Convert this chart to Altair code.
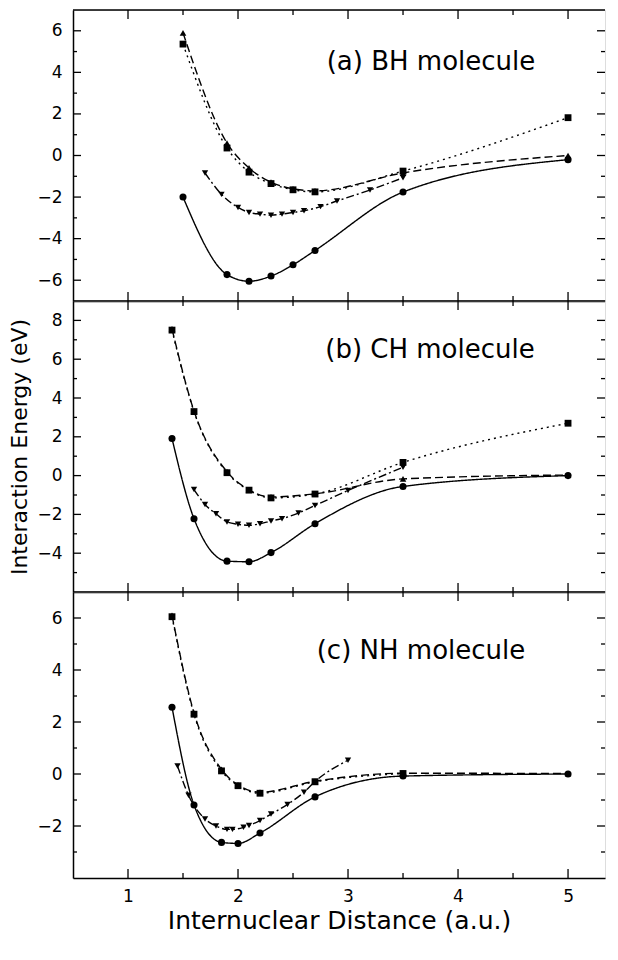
import altair as alt
import pandas as pd

# ---------------- data ----------------
# Panel (a) BH molecule
a_circle_x = [1.5, 1.9, 2.1, 2.3, 2.5, 2.7, 3.5, 5.0]
a_circle_y = [-2.0, -5.73, -6.05, -5.8, -5.26, -4.57, -1.76, -0.2]
a_square_x = [1.5, 1.9, 2.1, 2.3, 2.5, 2.7, 3.5, 5.0]
a_square_y = [5.36, 0.36, -0.8, -1.35, -1.65, -1.75, -0.75, 1.82]
a_tri_up_x = [1.5, 1.9, 2.1, 2.3, 2.5, 2.7, 3.5, 5.0]
a_tri_up_y = [5.9, 0.6, -0.6, -1.28, -1.6, -1.7, -0.84, 0.0]
a_tri_dn_x = [1.7, 1.85, 2.0, 2.1, 2.2, 2.3, 2.4, 2.5, 2.6, 2.75, 2.9, 3.2, 3.5]
a_tri_dn_y = [-0.84, -1.87, -2.5, -2.74, -2.82, -2.87, -2.82, -2.74, -2.66, -2.46, -2.19, -1.66, -1.07]

# Panel (b) CH molecule
b_circle_x = [1.4, 1.6, 1.9, 2.1, 2.3, 2.7, 3.5, 5.0]
b_circle_y = [1.91, -2.22, -4.41, -4.44, -3.97, -2.48, -0.56, 0.0]
b_square_x = [1.4, 1.6, 1.9, 2.1, 2.3, 2.7, 3.5, 5.0]
b_square_y = [7.5, 3.3, 0.15, -0.75, -1.15, -0.95, 0.68, 2.7]
b_tri_up_x = [1.4, 1.6, 1.9, 2.1, 2.3, 2.7, 3.5, 5.0]
b_tri_up_y = [7.56, 3.33, 0.2, -0.73, -1.1, -0.94, -0.17, 0.03]
b_tri_dn_x = [1.6, 1.7, 1.8, 1.9, 2.0, 2.1, 2.2, 2.3, 2.4, 2.55, 2.7, 3.0, 3.5]
b_tri_dn_y = [-0.72, -1.49, -1.97, -2.39, -2.51, -2.56, -2.48, -2.34, -2.22, -1.93, -1.54, -0.77, 0.43]

# Panel (c) NH molecule
c_circle_x = [1.4, 1.6, 1.85, 2.0, 2.2, 2.7, 3.5, 5.0]
c_circle_y = [2.57, -1.19, -2.63, -2.67, -2.27, -0.88, -0.08, 0.0]
c_square_x = [1.4, 1.6, 1.85, 2.0, 2.2, 2.7, 3.5]
c_square_y = [6.05, 2.3, 0.12, -0.45, -0.74, -0.3, 0.02]
c_tri_up_x = [1.4, 1.6, 1.85, 2.0, 2.2, 2.7, 3.5, 5.0]
c_tri_up_y = [6.1, 2.35, 0.18, -0.42, -0.7, -0.28, 0.03, 0.02]
c_tri_dn_x = [1.45, 1.55, 1.7, 1.8, 1.9, 1.95, 2.05, 2.1, 2.2, 2.3, 2.45, 2.6, 2.7, 3.0]
c_tri_dn_y = [0.31, -0.82, -1.73, -2.0, -2.13, -2.13, -2.05, -1.98, -1.79, -1.54, -1.17, -0.7, -0.29, 0.53]

x_major = [1, 2, 3, 4, 5]
x_minor = [1.5, 2.5, 3.5, 4.5]
a_y_major = [-6, -4, -2, 0, 2, 4, 6]
a_y_minor = [-5, -3, -1, 1, 3, 5]
b_y_major = [-4, -2, 0, 2, 4, 6, 8]
b_y_minor = [-5, -3, -1, 1, 3, 5, 7]
c_y_major = [-2, 0, 2, 4, 6]
c_y_minor = [-3, -1, 1, 3, 5]

labels = ["(a) BH molecule", "(b) CH molecule", "(c) NH molecule"]
x_title = "Internuclear Distance (a.u.)"
y_title = "Interaction Energy (eV)"

# ---------------- styling ----------------
FONT = "DejaVu Sans"
W = 532
X_DOMAIN = [0.5, 5.336]
series_order = ["circle", "square", "tri_up", "tri_dn"]
dash_range = [[1, 0], [2, 4], [8, 4], [8, 3, 2, 3]]
shape_range = ["circle", "square", "triangle-up", "triangle-down"]
size_range = [50, 40, 60, 60]


def make_df(sets):
    rows = []
    for name, xs, ys in sets:
        for xv, yv in zip(xs, ys):
            rows.append({"series": name, "x": xv, "y": yv})
    return pd.DataFrame(rows)


def panel(sets, ydom, ymaj, ymin, label, lx, ly, H, bottom, ytitle):
    df = make_df(sets)
    xs = alt.Scale(domain=X_DOMAIN, nice=False, zero=False)
    ys = alt.Scale(domain=ydom, nice=False, zero=False)
    if bottom:
        xaxis = alt.Axis(values=x_major, ticks=False, grid=False, labelFontSize=17,
                         labelPadding=10, labelColor="black", labelFont=FONT,
                         domainColor="black", domainWidth=1.5,
                         title=x_title, titleFontSize=25, titleFont=FONT,
                         titleFontWeight="normal", titleColor="black", titlePadding=4)
    else:
        xaxis = alt.Axis(values=x_major, ticks=False, grid=False, labels=False,
                         domainColor="black", domainWidth=1.5, title=None)
    yargs = dict(values=ymaj, ticks=False, grid=False, labelFontSize=17,
                 labelPadding=11, labelColor="black", labelFont=FONT,
                 domainColor="black", domainWidth=1.5, labelOverlap=False)
    if ytitle:
        yaxis = alt.Axis(title=ytitle, titleFontSize=22, titleFont=FONT,
                         titleFontWeight="normal", titleColor="black",
                         titlePadding=5, **yargs)
    else:
        yaxis = alt.Axis(title=None, **yargs)

    base = alt.Chart(df)
    lines = base.mark_line(interpolate="monotone", color="black", strokeWidth=1.4).encode(
        x=alt.X("x:Q", scale=xs, axis=xaxis),
        y=alt.Y("y:Q", scale=ys, axis=yaxis),
        strokeDash=alt.StrokeDash("series:N", scale=alt.Scale(domain=series_order, range=dash_range), legend=None),
        detail="series:N",
    )
    pts = base.mark_point(filled=True, color="black", opacity=1).encode(
        x=alt.X("x:Q", scale=xs, axis=xaxis),
        y=alt.Y("y:Q", scale=ys, axis=yaxis),
        shape=alt.Shape("series:N", scale=alt.Scale(domain=series_order, range=shape_range), legend=None),
        size=alt.Size("series:N", scale=alt.Scale(domain=series_order, range=size_range), legend=None),
    )
    ymaj_df = pd.DataFrame({"v": ymaj})
    ymin_df = pd.DataFrame({"v": ymin})
    xmaj_df = pd.DataFrame({"v": x_major})
    xmin_df = pd.DataFrame({"v": x_minor})
    tk = []
    # inward tick marks drawn as explicit line segments
    for d, L in ((ymaj_df, 8), (ymin_df, 4)):
        for x0, x1 in ((0, L), (W - L, W)):
            tk.append(alt.Chart(d).mark_rule(color="black", strokeWidth=1.3).encode(
                y=alt.Y("v:Q", scale=ys, axis=yaxis), y2=alt.Y2("v:Q"),
                x=alt.value(x0), x2=alt.value(x1)))
    for d, L in ((xmaj_df, 9), (xmin_df, 5)):
        for y0, y1 in ((0, L), (H - L, H)):
            tk.append(alt.Chart(d).mark_rule(color="black", strokeWidth=1.3).encode(
                x=alt.X("v:Q", scale=xs, axis=xaxis), x2=alt.X2("v:Q"),
                y=alt.value(y0), y2=alt.value(y1)))
    top = alt.Chart(pd.DataFrame({"t": [0]})).mark_rule(color="black", strokeWidth=1.5).encode(
        x=alt.value(0), x2=alt.value(W), y=alt.value(0), y2=alt.value(0))
    txt = alt.Chart(pd.DataFrame({"t": [label]})).mark_text(
        fontSize=26, font=FONT, color="black", align="center", baseline="middle").encode(
        text="t:N", x=alt.value(lx), y=alt.value(ly))
    return alt.layer(lines, pts, *tk, top, txt).properties(width=W, height=H)


pa = panel([("circle", a_circle_x, a_circle_y), ("square", a_square_x, a_square_y),
            ("tri_up", a_tri_up_x, a_tri_up_y), ("tri_dn", a_tri_dn_x, a_tri_dn_y)],
           [-7, 7], a_y_major, a_y_minor, labels[0], 358, 52, 291, False, None)
pb = panel([("circle", b_circle_x, b_circle_y), ("square", b_square_x, b_square_y),
            ("tri_up", b_tri_up_x, b_tri_up_y), ("tri_dn", b_tri_dn_x, b_tri_dn_y)],
           [-6, 9], b_y_major, b_y_minor, labels[1], 357, 49, 291, False, y_title)
pc = panel([("circle", c_circle_x, c_circle_y), ("square", c_square_x, c_square_y),
            ("tri_up", c_tri_up_x, c_tri_up_y), ("tri_dn", c_tri_dn_x, c_tri_dn_y)],
           [-4, 7], c_y_major, c_y_minor, labels[2], 348, 59, 286, True, None)

chart = alt.vconcat(pa, pb, pc, spacing=0, bounds="flush").properties(
    padding={"left": 0, "top": 0, "right": 0, "bottom": 0}
).configure_view(strokeWidth=0).configure(background="white")

chart.save("out.html", embed_options={"renderer": "svg", "actions": False})
